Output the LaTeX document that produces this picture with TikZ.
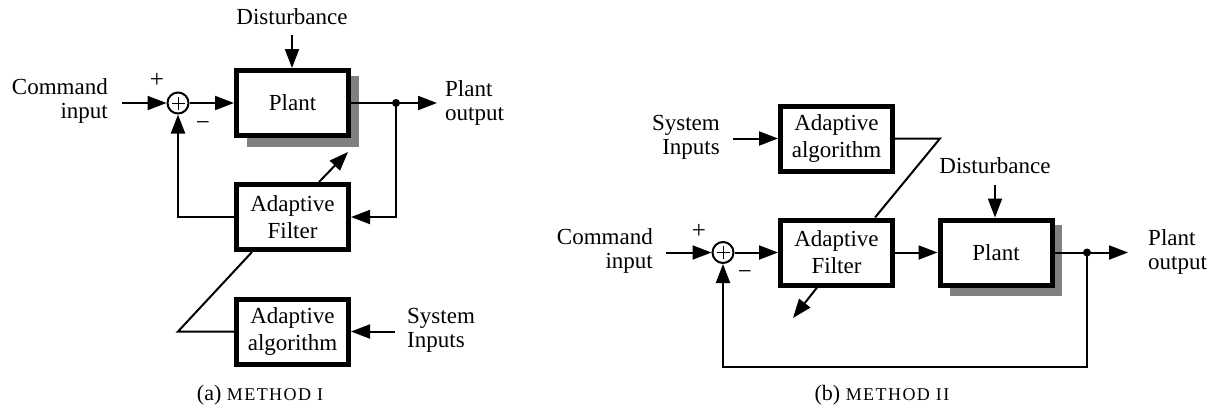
\documentclass[tikz,border=0pt]{standalone}
\usepackage{fontspec}
\setmainfont{Liberation Serif}
\usetikzlibrary{arrows.meta,calc}
\begin{document}
\begin{tikzpicture}[x=1pt,y=-1pt,
  blk/.style={draw,line width=5pt,fill=white,minimum width=112pt,minimum height=65pt,inner sep=0pt,align=center,font=\fontsize{23}{27}\selectfont},
  lbl/.style={font=\fontsize{23}{24}\selectfont,inner sep=0pt},
  sgn/.style={font=\fontsize{25}{25}\selectfont,inner sep=0pt},
  capt/.style={font=\fontsize{22}{22}\selectfont,inner sep=0pt},
  sumc/.style={draw,circle,line width=2pt,minimum size=21pt,inner sep=0pt},
  wire/.style={line width=2pt},
  arr/.style={wire,-{Triangle[length=19pt,width=14pt]}},
  shd/.style={fill=black!50},
  dotn/.style={circle,fill,inner sep=0pt,minimum size=8pt},
  plusmark/.style={line width=1pt}
]
\useasboundingbox (0,0) rectangle (1214,408);

% ---------------- (a) METHOD I ----------------
\fill[shd] (247,76) rectangle (359,147);
\node[blk] (plantA) at (292.5,103) {Plant};
\node[blk] (filtA) at (292.5,217) {Adaptive\\Filter};
\node[blk] (algA) at (292.5,331.5) {Adaptive\\algorithm};
\node[sumc] (sumA) at (178,103) {};
\draw[plusmark] (sumA.center) +(-6.5,0) -- +(6.5,0) (sumA.center) +(0,-6.5) -- +(0,6.5);

\node[lbl,align=right,anchor=east] (cmdA) at (108,101) {Command\\input};
\coordinate (cmdAe) at (122,103);
\draw[arr] (cmdAe) -- (sumA.west);
\node[sgn] (plusA) at (157,80) {+};
\node[sgn] (minusA) at (203,126) {−};
\draw[arr] (sumA.east) -- (plantA.west);

\node[dotn] (dotA) at (396,103) {};
\coordinate (outA) at (437,103);
\draw[wire] (plantA.east) -- (dotA.center);
\draw[arr] (dotA.center) -- (outA);
\node[lbl,align=left,anchor=west] (poA) at (445,103) {Plant\\output};

\node[lbl] (distA) at (292,17) {Disturbance};
\coordinate (distAs) at (292,35);
\draw[arr] (distAs) -- (distAs |- plantA.north);

\draw[arr] (dotA.center) |- (filtA.east);
\draw[arr] (filtA.west) -| (sumA.south);

\coordinate (adjA) at (348,152);
\draw[arr] ([xshift=26.5pt]filtA.north) -- (adjA);

\node[lbl,align=left,anchor=west] (sysA) at (407,330) {System\\Inputs};
\coordinate (sysAs) at (395,331.5);
\draw[arr] (sysAs) -- (algA.east);
\coordinate (kA) at (178,331.5);
\draw[wire] ([xshift=-40.5pt]filtA.south) -- (kA) -- (algA.west);

\node[capt] (capA) at (260,395) {(a) {\fontsize{18}{18}\selectfont\addfontfeature{LetterSpace=8}METHOD I}};

% ---------------- (b) METHOD II ----------------
\fill[shd] (950,225) rectangle (1062,296);
\node[blk] (algB) at (836.5,138.5) {Adaptive\\algorithm};
\node[blk] (filtB) at (836.5,252.5) {Adaptive\\Filter};
\node[blk] (plantB) at (996,252.5) {Plant};
\node[sumc] (sumB) at (723,252.5) {};
\draw[plusmark] (sumB.center) +(-6.5,0) -- +(6.5,0) (sumB.center) +(0,-6.5) -- +(0,6.5);

\node[lbl,align=right,anchor=east] (cmdB) at (653,251) {Command\\input};
\coordinate (cmdBe) at (666,252.5);
\draw[arr] (cmdBe) -- (sumB.west);
\node[sgn] (plusB) at (699,231) {+};
\node[sgn] (minusB) at (745,275) {−};
\draw[arr] (sumB.east) -- (filtB.west);
\draw[arr] (filtB.east) -- (plantB.west);

\node[dotn] (dotB) at (1087,252.5) {};
\draw[wire] (plantB.east) -- (dotB.center);
\coordinate (outB) at (1128,252.5);
\draw[arr] (dotB.center) -- (outB);
\node[lbl,align=left,anchor=west] (poB) at (1148,252) {Plant\\output};

\node[lbl] (distB) at (995,166) {Disturbance};
\coordinate (distBs) at (995,185);
\draw[arr] (distBs) -- (distBs |- plantB.north);

\coordinate (loopB) at (1087,367);
\draw[arr] (dotB.center) -- (loopB) -| (sumB.south);

\node[lbl,align=right,anchor=east] (sysB) at (720,137) {System\\Inputs};
\coordinate (sysBs) at (733,138.5);
\draw[arr] (sysBs) -- (algB.west);
\coordinate (kB) at (940,138.5);
\draw[wire] (algB.east) -- (kB) -- ([xshift=38.5pt]filtB.north);

\coordinate (adjB) at (793,318);
\draw[arr] ([xshift=-19.5pt]filtB.south) -- (adjB);

\node[capt] (capB) at (882,395) {(b) {\fontsize{18}{18}\selectfont\addfontfeature{LetterSpace=8}METHOD II}};
\end{tikzpicture}
\end{document}
